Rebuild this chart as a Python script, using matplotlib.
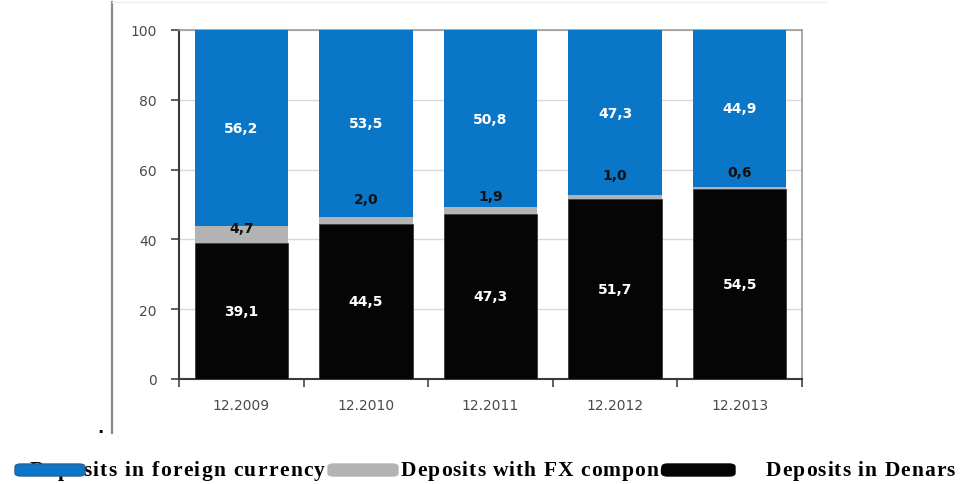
import matplotlib.pyplot as plt
from matplotlib.patches import FancyBboxPatch
from matplotlib.lines import Line2D
from matplotlib.font_manager import FontProperties
import numpy as np

# data (shares in %)
periods = ["12.2009", "12.2010", "12.2011", "12.2012", "12.2013"]
denars = [39.1, 44.5, 47.3, 51.7, 54.5]
fx_component = [4.7, 2.0, 1.9, 1.0, 0.6]
foreign_currency = [56.2, 53.5, 50.8, 47.3, 44.9]
legend_labels = ["Deposits in foreign currency", "Deposits with FX component", "Deposits in Denars"]

BLUE = "#0a76c8"
GRAY = "#b3b3b3"
BLACK = "#050505"
TICK_COLOR = "#4a4a4a"

# nudges for the small FX labels (label sits above the thin gray slice)
fx_label_nudge = [-0.6, 5.0, 3.2, 5.7, 4.2]

fig = plt.figure(figsize=(9.6, 4.85), dpi=100)
ax = fig.add_axes([179 / 960, 105 / 485, 623 / 960, 349 / 485])

x = np.arange(len(periods))
w = 0.75
ax.bar(x, denars, w, color=BLACK, edgecolor="#3a3a3a", linewidth=0.6, zorder=3)
bottom2 = np.array(denars)
ax.bar(x, fx_component, w, bottom=bottom2, color=GRAY, linewidth=0, zorder=3)
bottom3 = bottom2 + np.array(fx_component)
ax.bar(x, foreign_currency, w, bottom=bottom3, color=BLUE, linewidth=0, zorder=3)

lab_font = dict(family="DejaVu Sans", fontsize=10, fontweight="bold", ha="center", va="center", zorder=5)
for i in range(len(periods)):
    ax.text(x[i], denars[i] / 2, f"{denars[i]:.1f}".replace(".", ","), color="white", **lab_font)
    ax.text(x[i], bottom3[i] + foreign_currency[i] / 2, f"{foreign_currency[i]:.1f}".replace(".", ","),
            color="white", **lab_font)
    ax.text(x[i], bottom3[i] + fx_label_nudge[i], f"{fx_component[i]:.1f}".replace(".", ","),
            color="#111111", **lab_font)

ax.set_xlim(-0.5, len(periods) - 0.5)
ax.set_ylim(0, 100)
ax.set_yticks([0, 20, 40, 60, 80, 100])
ax.set_xticks(x)
ax.set_xticklabels(periods)
ax.set_xticks(np.arange(-0.5, len(periods)), minor=True)
ax.tick_params(axis="x", which="major", length=0, pad=14, labelsize=10, labelcolor=TICK_COLOR)
ax.tick_params(axis="x", which="minor", length=6, direction="out", color="#444444", width=1.2)
ax.tick_params(axis="y", length=6, direction="out", color="#444444", width=1.2, pad=10,
               labelsize=10, labelcolor=TICK_COLOR)
ax.yaxis.grid(True, color="#d9d9d9", linewidth=1, zorder=0)
ax.set_axisbelow(True)
for side in ["left", "bottom"]:
    ax.spines[side].set_color("#3a3a3a")
    ax.spines[side].set_linewidth(1.5)
for side in ["top", "right"]:
    ax.spines[side].set_color("#9a9a9a")
    ax.spines[side].set_linewidth(1.2)

# frame pieces from the source document
fig.add_artist(Line2D([112 / 960, 112 / 960], [1 - 3 / 485, 1 - 434 / 485], color="#8a8a8a", linewidth=1.6))
fig.add_artist(Line2D([112 / 960, 826 / 960], [1 - 3 / 485, 1 - 3 / 485], color="#eeeeee", linewidth=1.0))
fig.text(100 / 960, 1 - 433 / 485, ".", fontsize=12, fontweight="bold", ha="center", va="baseline")

# legend drawn by hand along the bottom, letter-spaced like the source
renderer = fig.canvas.get_renderer()
LEG_SIZE = 15.5
fp = FontProperties(family="Liberation Serif", size=LEG_SIZE, weight="bold")
ty = 1 - 471 / 485


def spaced_text(s, x0, x1):
    widths = []
    for c in s:
        if c == " ":
            widths.append(0.25 * LEG_SIZE * 100 / 72)
        else:
            cw, _, _ = renderer.get_text_width_height_descent(c, fp, ismath=False)
            widths.append(cw)
    gap = ((x1 - x0) - sum(widths)) / (len(s) - 1)
    xp = x0
    for c, cw in zip(s, widths):
        if c != " ":
            fig.text(xp / 960, ty, c, fontproperties=fp, va="center", ha="left")
        xp += cw + gap


spaced_text(legend_labels[0], 30, 325)
spaced_text(legend_labels[1], 401, 690)
spaced_text(legend_labels[2], 766, 955)

legend_boxes = [(15, 85, BLUE, "#2f5f93"), (328, 398, GRAY, GRAY), (662, 735, BLACK, BLACK)]
for x0, x1, fc, ec in legend_boxes:
    p = FancyBboxPatch((x0 / 960, 1 - 477 / 485), (x1 - x0) / 960, 12 / 485,
                       boxstyle="round,pad=0,rounding_size=0.006", transform=fig.transFigure,
                       facecolor=fc, edgecolor=ec, linewidth=1.0, zorder=10)
    fig.add_artist(p)

fig.savefig("out.png", dpi=100)
